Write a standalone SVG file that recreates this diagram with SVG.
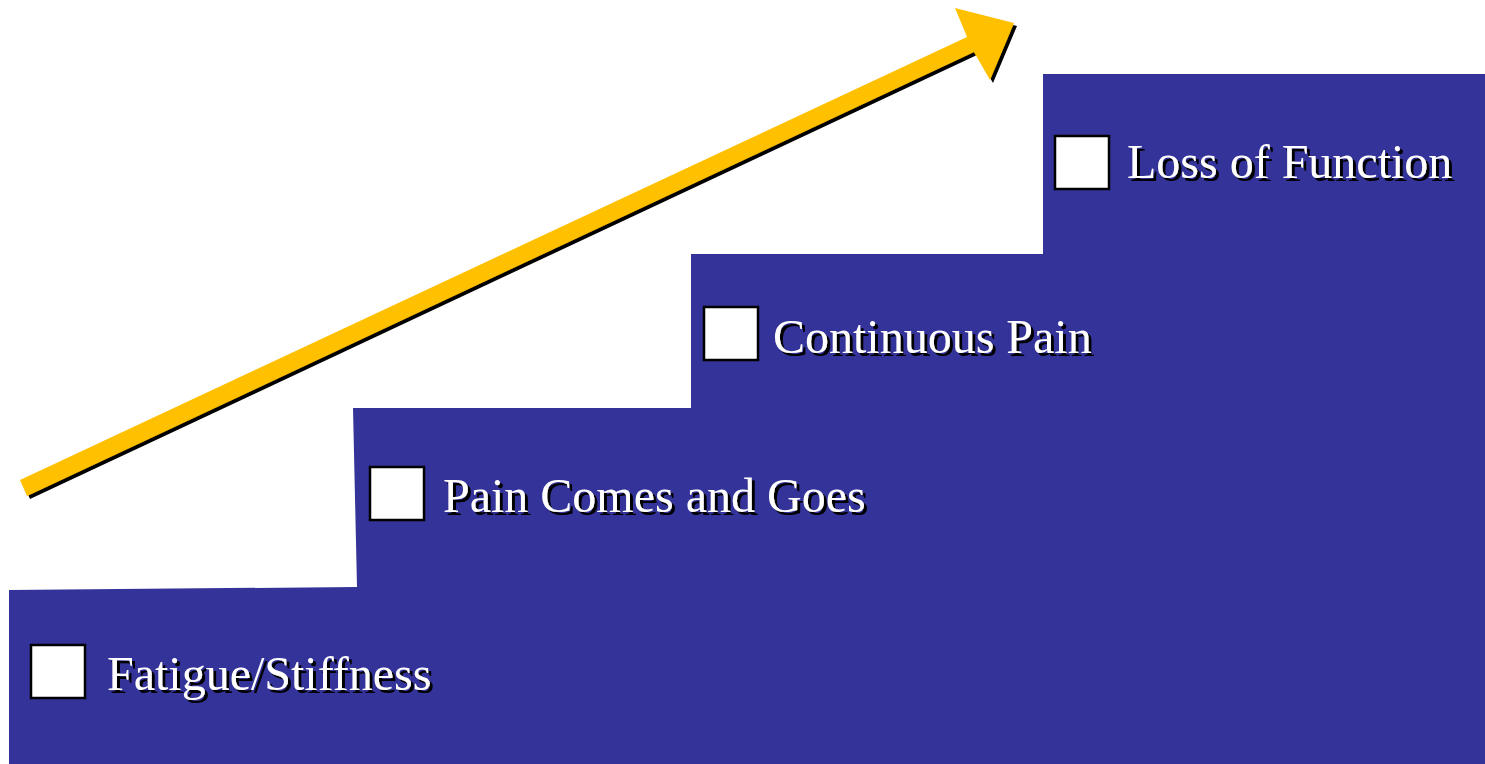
<svg xmlns="http://www.w3.org/2000/svg" width="1485" height="764" viewBox="0 0 1485 764">
<defs>
<filter id="shadow" x="-5%" y="-20%" width="115%" height="150%">
<feDropShadow dx="3" dy="3" stdDeviation="0.4" flood-color="#000000" flood-opacity="1"/>
</filter>
<style>
.lbl{font-family:"Liberation Serif","Times New Roman",serif;font-size:48px;fill:#ffffff;filter:url(#shadow);}
.box{fill:#ffffff;stroke:#000000;stroke-width:2.5;}
</style>
</defs>
<rect x="0" y="0" width="1485" height="764" fill="#ffffff"/>
<g id="stairs">
<polygon points="9,764 9,590 357,587 353,408 691,408 691,254 1043,254 1043,74 1485,74 1485,764" fill="#333399"/>
</g>
<g id="connectors">
<polygon points="20,480 967,37 955,8 1014,23 990,80 974,52 27,496" fill="#ffc000" filter="url(#shadow)"/>
</g>
<g id="step1">
<rect class="box" x="31" y="645" width="54" height="53"/>
<text class="lbl" x="107" y="690">Fatigue/Stiffness</text>
</g>
<g id="step2">
<rect class="box" x="370" y="467" width="54" height="53"/>
<text class="lbl" x="443" y="512">Pain Comes and Goes</text>
</g>
<g id="step3">
<rect class="box" x="704" y="307" width="54" height="53"/>
<text class="lbl" x="773" y="353">Continuous Pain</text>
</g>
<g id="step4">
<rect class="box" x="1055" y="136" width="54" height="53"/>
<text class="lbl" x="1127" y="178">Loss of Function</text>
</g>
</svg>
